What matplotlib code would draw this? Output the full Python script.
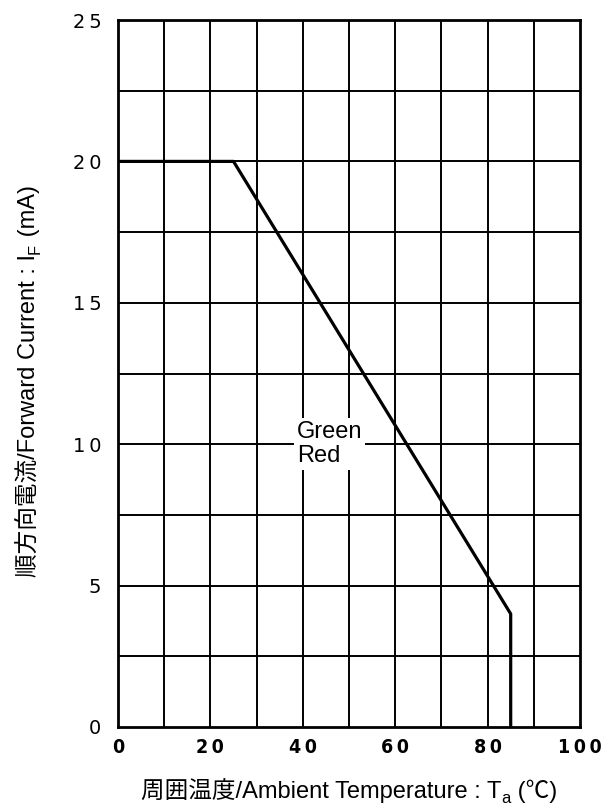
import matplotlib
matplotlib.use("Agg")
import matplotlib.pyplot as plt
from matplotlib.transforms import IdentityTransform

# derating curve: Ta (degC) vs IF (mA)
temp = [0, 25, 85, 85]
current = [20, 20, 4, 0]

xticks = [0, 20, 40, 60, 80, 100]
yticks = [0, 5, 10, 15, 20, 25]
xgrid = [10, 20, 30, 40, 50, 60, 70, 80, 90]
ygrid = [2.5, 5, 7.5, 10, 12.5, 15, 17.5, 20, 22.5]

xlabel_parts = [("周囲温度/Ambient Temperature : T", False), ("a", True), (" (℃)", False)]
ylabel_parts = [("順方向電流/Forward Current : I", False), ("F", True), (" (mA)", False)]

FAM = ['Liberation Sans', 'Noto Sans CJK JP', 'DejaVu Sans']
plt.rcParams['font.family'] = FAM

fig = plt.figure(figsize=(6.02, 8.07), dpi=100)
ax = fig.add_axes([118/602, 1 - 727/807, (580-118)/602, (727-20)/807])

for x in xgrid:
    ax.axvline(x, color='black', lw=1.4, zorder=1)
for y in ygrid:
    ax.axhline(y, color='black', lw=1.4, zorder=1)

ax.plot(temp, current, color='black', lw=2.3, zorder=3)

ax.text(38.7, 10, "Green\nRed", fontsize=17, ha='left', va='center', linespacing=1.15,
        bbox=dict(facecolor='white', edgecolor='none', pad=2), zorder=2)

ax.set_xlim(0, 100)
ax.set_ylim(0, 25)
ax.set_xticks(xticks)
ax.set_yticks(yticks)
ax.set_xticklabels(["\u2009".join(str(v)) for v in xticks], family='DejaVu Sans',
                   fontsize=14, fontweight='bold', fontstretch='condensed')
ax.set_yticklabels(["\u2009".join(str(v)) for v in yticks], family='DejaVu Sans',
                   fontsize=14)
ax.tick_params(axis='x', length=0, pad=8)
ax.tick_params(axis='y', length=0, pad=12)
for s in ax.spines.values():
    s.set_linewidth(2)

renderer = fig.canvas.get_renderer()


def rich_label(parts, cx, cy, size, vertical):
    # place text pieces one after another, subscripts smaller and lowered
    texts = []
    total = 0
    for s, sub in parts:
        fs = size * 0.7 if sub else size
        t = fig.text(0, 0, s, fontsize=fs, family=FAM, transform=IdentityTransform(),
                     rotation=90 if vertical else 0, ha='left', va='baseline',
                     rotation_mode='anchor')
        bb = t.get_window_extent(renderer)
        w = bb.height if vertical else bb.width
        texts.append((t, w, sub))
        total += w
    pos = -total / 2
    for t, w, sub in texts:
        off = size * 0.3 if sub else 0
        if vertical:
            t.set_position((cx + size * 0.45 + off, cy + pos))
        else:
            t.set_position((cx + pos, cy - size * 0.45 - off))
        pos += w


rich_label(xlabel_parts, 349, 807 - 790, 17, False)
rich_label(ylabel_parts, 27, 807 - 381, 17, True)

fig.savefig("out.png", dpi=100)
